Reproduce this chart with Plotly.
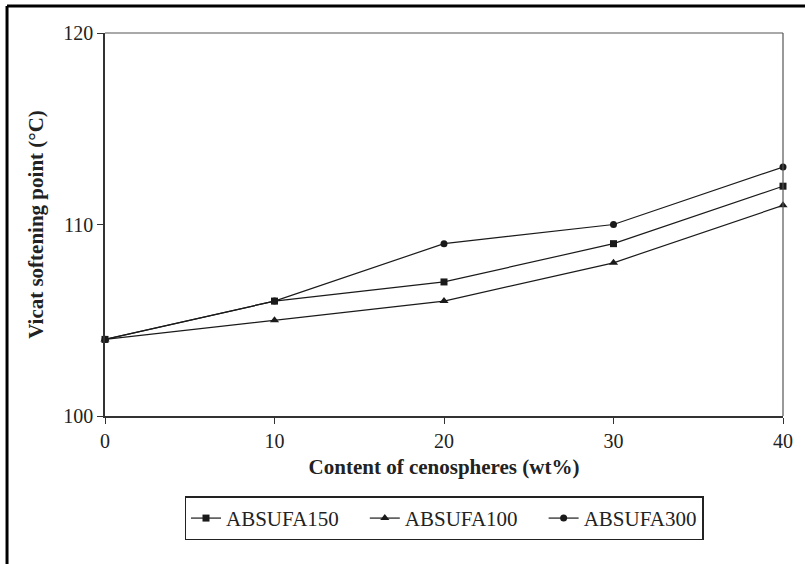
import plotly.graph_objects as go

content = [0, 10, 20, 30, 40]
absufa150 = [104, 106, 107, 109, 112]
absufa100 = [104, 105, 106, 108, 111]
absufa300 = [104, 106, 109, 110, 113]
names = ["ABSUFA150", "ABSUFA100", "ABSUFA300"]

font_family = "'Liberation Serif', 'Times New Roman', serif"
pad = "\u00a0" * 4

fig = go.Figure()
series = [
    (names[0], absufa150, "square", 7, pad),
    (names[1], absufa100, "triangle-up", 8, pad),
    (names[2], absufa300, "circle", 7, ""),
]
for name, vals, sym, sz, extra in series:
    fig.add_trace(go.Scatter(
        x=content, y=vals, name=name + extra, mode="lines+markers",
        line=dict(color="#1a1a1a", width=1.2),
        marker=dict(symbol=sym, size=sz, color="#1a1a1a"),
        cliponaxis=False,
    ))

fig.update_layout(
    width=805, height=564,
    margin=dict(l=105, r=22, t=33, b=148),
    paper_bgcolor="white", plot_bgcolor="white",
    font=dict(family=font_family, color="#222", size=20),
    showlegend=True,
    legend=dict(
        orientation="h", x=0.5, xanchor="center", y=-0.21, yanchor="top",
        bordercolor="#222", borderwidth=1.5, font=dict(size=21),
        itemwidth=30, tracegroupgap=0,
    ),
    xaxis=dict(
        range=[0, 40], tickvals=content, ticks="outside", ticklen=6,
        tickcolor="#333", showgrid=False, zeroline=False,
        showline=True, linecolor="#333", linewidth=2, mirror=False,
        tickfont=dict(size=20),
        title=dict(text="<b>Content of cenospheres (wt%)</b>", font=dict(size=21), standoff=8),
    ),
    yaxis=dict(
        range=[100, 120], tickvals=[100, 110, 120], ticks="outside", ticklen=6,
        tickcolor="#333", showgrid=False, zeroline=False,
        showline=True, linecolor="#333", linewidth=1.5,
        tickfont=dict(size=20),
        title=dict(text="<b>Vicat softening point (°C)</b>", font=dict(size=21), standoff=14),
    ),
    shapes=[
        dict(type="line", xref="paper", yref="paper", x0=0, x1=1, y0=1, y1=1,
             line=dict(color="#555", width=1.2)),
        dict(type="line", xref="paper", yref="paper", x0=1, x1=1, y0=0, y1=1,
             line=dict(color="#555", width=1.2)),
        dict(type="line", xref="paper", yref="paper", x0=-0.1445, x1=1.2, y0=1.0705, y1=1.0705,
             line=dict(color="black", width=3)),
        dict(type="line", xref="paper", yref="paper", x0=-0.1445, x1=-0.1445, y0=1.0705, y1=-0.5,
             line=dict(color="black", width=3)),
    ],
)

fig.write_html("out.html")
